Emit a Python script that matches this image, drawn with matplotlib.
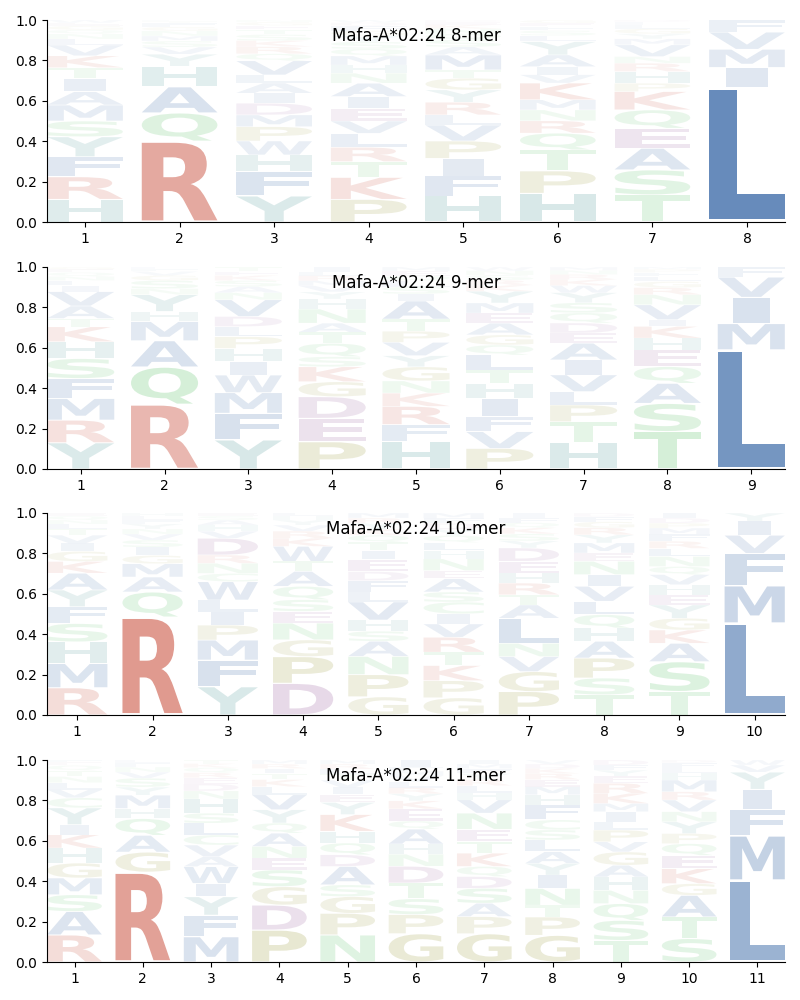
import matplotlib
matplotlib.use("Agg")
import matplotlib.pyplot as plt
from matplotlib.textpath import TextPath
from matplotlib.font_manager import FontProperties
from matplotlib.patches import PathPatch
from matplotlib.transforms import Affine2D

allele = "Mafa-A*02:24"
lengths = [8, 9, 10, 11]

# letters at each position, listed bottom -> top, with their probabilities
mer8_letters = ["HRFYSMAITKVLNQGEW", "RQAHYVSMNGFTL", "YFHWPMDIALVQRKSTEGN",
                "PKTRLVEIANHMQSYGFDW", "HFIPVLRYGTMASQNKED", "HPTQRNMKVIAYLSFEG",
                "TSAEQKPHRNVMYGLFD", "LIMVF"]
mer8_heights = [
    [0.112, 0.112, 0.099, 0.099, 0.078, 0.079, 0.066, 0.066, 0.053, 0.059, 0.053, 0.03, 0.025, 0.02, 0.02, 0.015, 0.014],
    [0.40, 0.14, 0.129, 0.102, 0.06, 0.035, 0.03, 0.025, 0.025, 0.02, 0.02, 0.008, 0.006],
    [0.129, 0.12, 0.083, 0.069, 0.071, 0.058, 0.058, 0.05, 0.05, 0.04, 0.07, 0.035, 0.035, 0.03, 0.03, 0.025, 0.02, 0.017, 0.01],
    [0.112, 0.109, 0.078, 0.071, 0.069, 0.061, 0.063, 0.058, 0.066, 0.05, 0.04, 0.045, 0.035, 0.035, 0.03, 0.025, 0.025, 0.015, 0.013],
    [0.129, 0.099, 0.087, 0.086, 0.079, 0.05, 0.063, 0.061, 0.058, 0.041, 0.074, 0.04, 0.035, 0.03, 0.025, 0.02, 0.013, 0.01],
    [0.142, 0.111, 0.104, 0.083, 0.061, 0.054, 0.05, 0.083, 0.041, 0.04, 0.058, 0.066, 0.03, 0.025, 0.02, 0.017, 0.015],
    [0.134, 0.124, 0.107, 0.099, 0.091, 0.091, 0.041, 0.058, 0.041, 0.033, 0.058, 0.03, 0.025, 0.025, 0.02, 0.014, 0.01],
    [0.665, 0.1, 0.09, 0.085, 0.06],
]

mer9_letters = ["YRMFSHKTAVILNQEG", "RQAMHYNSGVFL", "YFMWIHPLDVNASKET",
                "PEDGKSQTANHYVMRLI", "HFRKNGYVPTAISLQEM", "PVFIHTLQGAEMYKRSNW",
                "HTPLVIAEDQSYWKRNM", "TSAQEHKIVNRGLFPM", "LMIVF"]
mer9_heights = [
    [0.13, 0.112, 0.107, 0.099, 0.099, 0.083, 0.074, 0.041, 0.062, 0.071, 0.03, 0.025, 0.02, 0.02, 0.015, 0.012],
    [0.32, 0.185, 0.13, 0.095, 0.05, 0.083, 0.03, 0.04, 0.025, 0.02, 0.012, 0.01],
    [0.144, 0.132, 0.102, 0.087, 0.066, 0.066, 0.058, 0.05, 0.05, 0.083, 0.035, 0.03, 0.03, 0.025, 0.02, 0.022],
    [0.135, 0.116, 0.107, 0.074, 0.074, 0.05, 0.066, 0.055, 0.045, 0.07, 0.05, 0.035, 0.03, 0.025, 0.025, 0.02, 0.023],
    [0.135, 0.085, 0.09, 0.066, 0.06, 0.07, 0.055, 0.066, 0.055, 0.06, 0.09, 0.035, 0.035, 0.03, 0.025, 0.023, 0.02],
    [0.102, 0.083, 0.074, 0.091, 0.074, 0.066, 0.074, 0.05, 0.05, 0.058, 0.05, 0.05, 0.058, 0.03, 0.025, 0.025, 0.022, 0.018],
    [0.13, 0.104, 0.083, 0.066, 0.083, 0.074, 0.083, 0.05, 0.05, 0.05, 0.05, 0.05, 0.035, 0.03, 0.025, 0.02, 0.017],
    [0.185, 0.14, 0.099, 0.083, 0.083, 0.058, 0.058, 0.033, 0.074, 0.05, 0.035, 0.03, 0.025, 0.02, 0.015, 0.012],
    [0.59, 0.13, 0.13, 0.1, 0.05],
]

mer10_letters = ["RMHSFYAKGIVTLNQE", "RQAMGISVNYFLH", "YFMPILWCNRDVHASE",
                 "DPGNESQATWKRVYHL", "GPNASHVLFDEITQKYRM", "GPKTRVICSAENHLQYDFM",
                 "PGVNLATRHEDYSKQFI", "TSPAHQLVINEMYRGFD", "TSAKGYEHVQNLRFMPDI", "LMFVIY"]
mer10_heights = [
    [0.135, 0.12, 0.107, 0.091, 0.083, 0.083, 0.083, 0.058, 0.05, 0.04, 0.04, 0.03, 0.025, 0.02, 0.02, 0.015],
    [0.485, 0.124, 0.074, 0.066, 0.041, 0.041, 0.035, 0.03, 0.025, 0.025, 0.02, 0.018, 0.015],
    [0.14, 0.132, 0.099, 0.074, 0.066, 0.058, 0.091, 0.041, 0.05, 0.041, 0.083, 0.035, 0.03, 0.025, 0.02, 0.015],
    [0.157, 0.132, 0.083, 0.083, 0.058, 0.058, 0.066, 0.074, 0.05, 0.074, 0.04, 0.035, 0.03, 0.025, 0.02, 0.017],
    [0.09, 0.11, 0.09, 0.075, 0.05, 0.055, 0.09, 0.05, 0.055, 0.045, 0.06, 0.045, 0.04, 0.035, 0.03, 0.03, 0.025, 0.025],
    [0.085, 0.085, 0.075, 0.066, 0.074, 0.066, 0.05, 0.058, 0.05, 0.066, 0.04, 0.058, 0.041, 0.04, 0.035, 0.03, 0.03, 0.025, 0.026],
    [0.116, 0.099, 0.074, 0.066, 0.124, 0.066, 0.05, 0.058, 0.05, 0.058, 0.066, 0.035, 0.035, 0.03, 0.025, 0.025, 0.023],
    [0.1, 0.083, 0.099, 0.083, 0.066, 0.066, 0.066, 0.074, 0.058, 0.066, 0.041, 0.05, 0.04, 0.035, 0.03, 0.025, 0.018],
    [0.116, 0.148, 0.091, 0.066, 0.058, 0.066, 0.05, 0.05, 0.05, 0.04, 0.05, 0.04, 0.035, 0.035, 0.03, 0.025, 0.025, 0.025],
    [0.455, 0.185, 0.16, 0.09, 0.07, 0.04],
]

mer11_letters = ["RASMGHKIYCVLNTQEF", "RGAQHMYSVNFL", "MFYIWAVCLSHNDERQKT",
                 "PDGSENAQYVLKTIRM", "NPGSADQHKYEIVTLRM", "GPSTDNHAQEKYRLVMFI",
                 "GPASDQKTENVHLRYFMI", "GPTNIYALSCFHMERKDV", "TSQNHAGVPLIMKREYFD",
                 "STAGKEQPYNVRMHLFD", "LMFIYVW"]
mer11_heights = [
    [0.134, 0.116, 0.083, 0.083, 0.074, 0.074, 0.066, 0.05, 0.083, 0.05, 0.04, 0.035, 0.03, 0.03, 0.025, 0.015, 0.012],
    [0.445, 0.099, 0.083, 0.083, 0.05, 0.066, 0.04, 0.044, 0.03, 0.025, 0.02, 0.015],
    [0.125, 0.107, 0.091, 0.066, 0.083, 0.05, 0.057, 0.05, 0.058, 0.05, 0.07, 0.04, 0.035, 0.03, 0.025, 0.025, 0.02, 0.018],
    [0.158, 0.124, 0.091, 0.083, 0.058, 0.058, 0.066, 0.05, 0.066, 0.074, 0.04, 0.035, 0.03, 0.025, 0.022, 0.02],
    [0.134, 0.107, 0.083, 0.058, 0.091, 0.058, 0.058, 0.058, 0.083, 0.06, 0.04, 0.035, 0.035, 0.03, 0.025, 0.025, 0.02],
    [0.14, 0.095, 0.078, 0.078, 0.083, 0.06, 0.05, 0.074, 0.04, 0.06, 0.04, 0.035, 0.03, 0.03, 0.03, 0.022, 0.02, 0.035],
    [0.14, 0.085, 0.066, 0.074, 0.058, 0.05, 0.066, 0.058, 0.06, 0.08, 0.066, 0.035, 0.035, 0.03, 0.03, 0.025, 0.022, 0.02],
    [0.132, 0.091, 0.058, 0.083, 0.066, 0.058, 0.058, 0.058, 0.05, 0.05, 0.074, 0.05, 0.04, 0.035, 0.03, 0.025, 0.022, 0.02],
    [0.107, 0.099, 0.083, 0.066, 0.066, 0.058, 0.066, 0.05, 0.058, 0.041, 0.05, 0.041, 0.05, 0.05, 0.035, 0.03, 0.025, 0.025],
    [0.116, 0.107, 0.107, 0.058, 0.074, 0.066, 0.058, 0.05, 0.058, 0.05, 0.058, 0.041, 0.058, 0.035, 0.025, 0.025, 0.014],
    [0.405, 0.22, 0.13, 0.1, 0.085, 0.035, 0.025],
]

all_letters = [mer8_letters, mer9_letters, mer10_letters, mer11_letters]
all_heights = [mer8_heights, mer9_heights, mer10_heights, mer11_heights]

colours = {}
for c in "RK":
    colours[c] = "#c64430"
for c in "AFILMVW":
    colours[c] = "#285b9f"
for c in "HY":
    colours[c] = "#378b8b"
for c in "STNQC":
    colours[c] = "#50be5f"
for c in "PG":
    colours[c] = "#91912a"
for c in "DE":
    colours[c] = "#8c4b91"

font = FontProperties(family="DejaVu Sans", weight="bold")
glyphs = {}


def get_glyph(c):
    if c not in glyphs:
        glyphs[c] = TextPath((0, 0), c, size=1, prop=font)
    return glyphs[c]


def draw_letter(ax, c, x, y, w, h):
    p = get_glyph(c)
    ext = p.get_extents()
    # narrow glyphs (like I) are not stretched much more than E
    e_width = get_glyph("E").get_extents().width
    hs = min(w / ext.width, 1.5 * w / e_width)
    gw = ext.width * hs
    pad = 0.02 * h
    t = (Affine2D().translate(-ext.x0, -ext.y0)
         .scale(hs, (h - 2 * pad) / ext.height)
         .translate(x - gw / 2, y + pad))
    alpha = min(1.0, h ** 0.85)
    ax.add_patch(PathPatch(t.transform_path(p), facecolor=colours[c],
                           edgecolor="none", alpha=alpha))


fig = plt.figure(figsize=(8, 10), dpi=100)
bottoms = [0.778, 0.531, 0.285, 0.038]

for k in range(4):
    n = lengths[k]
    ax = fig.add_axes([0.059, bottoms[k], 0.922, 0.202])
    for i in range(n):
        letters = all_letters[k][i]
        heights = all_heights[k][i]
        assert len(letters) == len(heights), (k, i)
        floor = 0.0
        for c, h in zip(letters, heights):
            draw_letter(ax, c, i + 1, floor, 0.8, h)
            floor += h
    ax.set_xlim(0.6, n + 0.4)
    ax.set_ylim(0, 1)
    ax.set_xticks(range(1, n + 1))
    ax.set_yticks([0, 0.2, 0.4, 0.6, 0.8, 1.0])
    ax.spines['top'].set_visible(False)
    ax.spines['right'].set_visible(False)
    ax.text(0.5, 0.92, allele + " " + str(n) + "-mer", transform=ax.transAxes,
            ha='center', va='center', fontsize=12)

fig.savefig("out.png", dpi=100)
